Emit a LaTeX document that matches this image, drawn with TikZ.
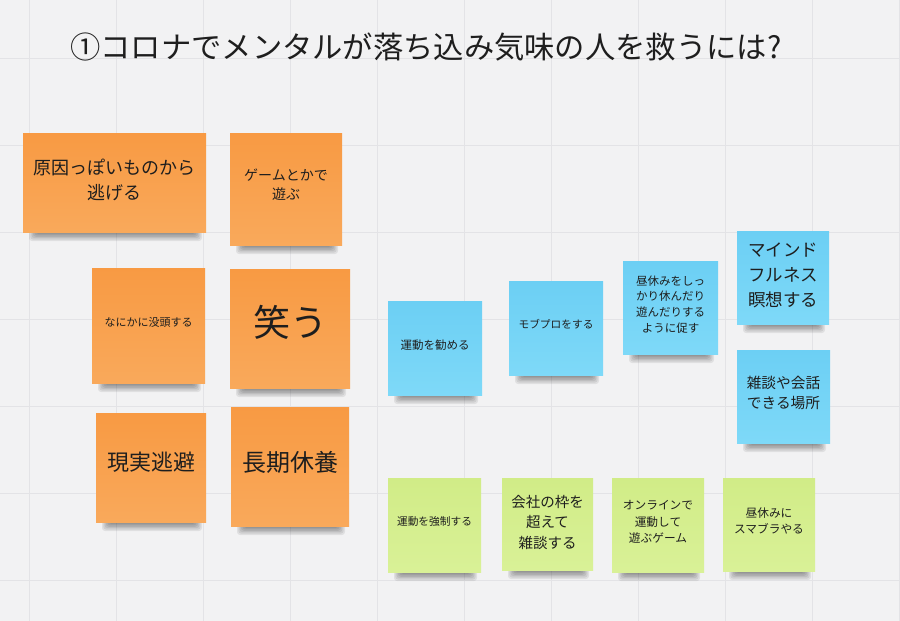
\documentclass[tikz,border=0pt]{standalone}
\usepackage{fontspec}
\setmainfont{Noto Sans CJK JP}
\definecolor{bg}{HTML}{F2F2F3}
\definecolor{gridc}{HTML}{E3E3E6}
\definecolor{orT}{HTML}{F89A43}
\definecolor{orB}{HTML}{F9A95B}
\definecolor{blT}{HTML}{6CCFF4}
\definecolor{blB}{HTML}{7ED9F8}
\definecolor{grT}{HTML}{D1EC87}
\definecolor{grB}{HTML}{D9F197}
\definecolor{ink}{HTML}{1E1E1E}
\tikzset{
  onote/.style={top color=orT, bottom color=orB, draw=none},
  bnote/.style={top color=blT, bottom color=blB, draw=none},
  gnote/.style={top color=grT, bottom color=grB, draw=none},
  ntext/.style={align=center, text=ink, inner sep=0pt},
}
\newcommand\snote[6]{%
  \foreach \k in {0,...,5}{
    \fill[black, opacity=0.075, rounded corners=3pt]
      ({#2+6+\k*1.3},{#5-8}) rectangle ({#4-4-\k*1.3},{#5+9-\k*1.4});
  }
  \node[#6, minimum width={#4pt-#2pt}, minimum height={#5pt-#3pt}, inner sep=0pt]
    (#1) at ({(#2+#4)/2},{(#3+#5)/2}) {};
}
\begin{document}
\begin{tikzpicture}[x=1pt,y=-1pt]
\fill[bg] (0,0) rectangle (900,621);
\useasboundingbox (0,0) rectangle (900,621);
\foreach \x in {29,116,...,900} \draw[gridc, line width=1pt] (\x,0) -- (\x,621);
\foreach \y in {58,145,...,621} \draw[gridc, line width=1pt] (0,\y) -- (900,\y);

\node[font=\fontsize{30.3}{34}\selectfont, anchor=west, inner sep=0pt, text=ink] (title) at (70,47) {①コロナでメンタルが落ち込み気味の人を救うには?};

% orange
\snote{n1}{23}{133}{206}{232}{onote}
\node[ntext, font=\fontsize{18}{25}\selectfont] (t1) at (114.5,180) {原因っぽいものから\\逃げる};
\snote{n2}{230}{133}{342}{245}{onote}
\node[ntext, font=\fontsize{14}{19}\selectfont] (t2) at (286,185) {ゲームとかで\\遊ぶ};
\snote{n3}{92}{268}{205}{383}{onote}
\node[ntext, font=\fontsize{11}{15}\selectfont] (t3) at (148.5,322) {なにかに没頭する};
\snote{n4}{230}{269}{350}{388}{onote}
\node[ntext, font=\fontsize{37}{44}\selectfont] (t4) at (290,322) {笑う};
\snote{n5}{96}{413}{206}{522}{onote}
\node[ntext, font=\fontsize{22}{26}\selectfont] (t5) at (151,462) {現実逃避};
\snote{n6}{231}{407}{349}{526}{onote}
\node[ntext, font=\fontsize{24}{28}\selectfont] (t6) at (290,462) {長期休養};

% blue
\snote{n7}{388}{301}{482}{395}{bnote}
\node[ntext, font=\fontsize{11.5}{15}\selectfont] (t7) at (435,345) {運動を勧める};
\snote{n8}{509}{281}{603}{375}{bnote}
\node[ntext, font=\fontsize{10.7}{15}\selectfont] (t8) at (556,324) {モブプロをする};
\snote{n9}{623}{261}{718}{354}{bnote}
\node[ntext, font=\fontsize{11.5}{15.7}\selectfont] (t9) at (670.5,304.5) {昼休みをしっ\\かり休んだり\\遊んだりする\\ように促す};
\snote{n10}{737}{231}{829}{324}{bnote}
\node[ntext, font=\fontsize{17.5}{25}\selectfont] (t10) at (783,275) {マインド\\フルネス\\瞑想する};
\snote{n11}{737}{350}{830}{443}{bnote}
\node[ntext, font=\fontsize{14.7}{20}\selectfont] (t11) at (783.5,393) {雑談や会話\\できる場所};

% green
\snote{n12}{388}{478}{481}{572}{gnote}
\node[ntext, font=\fontsize{10.7}{15}\selectfont] (t12) at (434.5,521) {運動を強制する};
\snote{n13}{502}{478}{593}{570}{gnote}
\node[ntext, font=\fontsize{14.5}{20.5}\selectfont] (t13) at (547.5,522) {会社の枠を\\超えて\\雑談する};
\snote{n14}{612}{478}{704}{572}{gnote}
\node[ntext, font=\fontsize{11.7}{16.7}\selectfont] (t14) at (658,522) {オンラインで\\運動して\\遊ぶゲーム};
\snote{n15}{723}{478}{815}{571}{gnote}
\node[ntext, font=\fontsize{11.7}{16}\selectfont] (t15) at (769,521) {昼休みに\\スマブラやる};
\end{tikzpicture}
\end{document}
